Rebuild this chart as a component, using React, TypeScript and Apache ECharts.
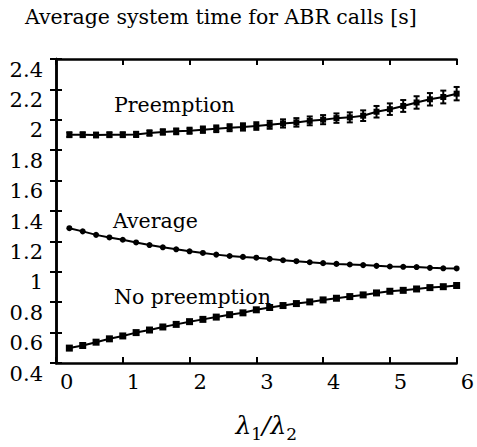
import React, { useEffect, useRef } from "react";
import * as echarts from "echarts";

// Arrival-rate ratio λ1/λ2 at which each point was simulated
const ratios = [
  0.2, 0.4, 0.6, 0.8, 1.0, 1.2, 1.4, 1.6, 1.8, 2.0,
  2.2, 2.4, 2.6, 2.8, 3.0, 3.2, 3.4, 3.6, 3.8, 4.0,
  4.2, 4.4, 4.6, 4.8, 5.0, 5.2, 5.4, 5.6, 5.8, 6.0,
];

// Average system time [s] for ABR calls
const preemption = [
  1.902, 1.902, 1.9, 1.902, 1.902, 1.904, 1.913, 1.92, 1.924, 1.928,
  1.935, 1.941, 1.948, 1.953, 1.959, 1.967, 1.976, 1.983, 1.993, 2.001,
  2.011, 2.016, 2.027, 2.053, 2.07, 2.091, 2.114, 2.135, 2.15, 2.172,
];
// Half-width of the confidence interval on the preemption curve
const preemptionErr = [
  0.016, 0.016, 0.016, 0.016, 0.016, 0.017, 0.018, 0.018, 0.019, 0.02,
  0.021, 0.022, 0.023, 0.024, 0.025, 0.026, 0.027, 0.028, 0.029, 0.03,
  0.031, 0.033, 0.035, 0.038, 0.038, 0.039, 0.041, 0.041, 0.042, 0.044,
];
const average = [
  1.287, 1.266, 1.243, 1.226, 1.211, 1.193, 1.176, 1.161, 1.148, 1.135,
  1.124, 1.113, 1.104, 1.098, 1.093, 1.085, 1.076, 1.07, 1.063, 1.057,
  1.052, 1.048, 1.044, 1.039, 1.035, 1.033, 1.031, 1.026, 1.023, 1.022,
];
const noPreemption = [
  0.498, 0.515, 0.537, 0.559, 0.578, 0.6, 0.617, 0.637, 0.654, 0.672,
  0.687, 0.702, 0.718, 0.73, 0.75, 0.765, 0.778, 0.791, 0.802, 0.815,
  0.826, 0.837, 0.848, 0.861, 0.872, 0.878, 0.887, 0.896, 0.902, 0.91,
];

const seriesNames = ["Preemption", "Average", "No preemption"];
const titleText = "Average system time for ABR calls [s]";

const SERIF = "DejaVu Serif";
const INK = "#000";
const FS = 21;

const pairs = (ys: number[]) => ratios.map((x, i) => [x, ys[i]]);

export default function App() {
  const ref = useRef<HTMLDivElement>(null);

  useEffect(() => {
    if (!ref.current) return;
    const chart = echarts.init(ref.current, undefined, { renderer: "svg" });

    const axisLine = { show: true, lineStyle: { color: INK, width: 2.5 } };
    const axisTick = {
      show: true,
      inside: true,
      length: 6,
      lineStyle: { color: INK, width: 2 },
    };

    const xBase = {
      type: "value" as const,
      min: 0,
      max: 6,
      interval: 1,
      axisLine,
      axisTick,
      splitLine: { show: false },
    };
    const yBase = {
      type: "value" as const,
      min: 0.4,
      max: 2.4,
      interval: 0.2,
      axisLine,
      axisTick,
      splitLine: { show: false },
    };

    const lineStyle = { color: INK, width: 2 };
    const note = (text: string, x: number, y: number, size: number) => ({
      type: "text",
      x,
      y,
      style: {
        text,
        fontFamily: SERIF,
        fontSize: size,
        fill: INK,
        verticalAlign: "middle",
      },
    });

    chart.setOption({
      animation: false,
      backgroundColor: "#fff",
      textStyle: { fontFamily: SERIF, color: INK },
      grid: { left: 56, right: 20, top: 59, bottom: 81 },
      xAxis: [
        {
          ...xBase,
          position: "bottom",
          axisLabel: {
            color: INK,
            fontFamily: SERIF,
            fontSize: FS,
            margin: 8,
            align: "left",
            padding: [0, 0, 0, 4],
            showMaxLabel: true,
          },
          name: "{l|λ}{s|1}{l|/λ}{s|2}",
          nameLocation: "middle",
          nameGap: 50,
          nameTextStyle: {
            fontFamily: SERIF,
            padding: [0, 0, 0, 20],
            rich: {
              l: {
                fontFamily: SERIF,
                fontStyle: "italic",
                fontSize: 25,
                color: INK,
                verticalAlign: "bottom",
                padding: [0, 0, 4, 0],
              },
              s: {
                fontFamily: SERIF,
                fontSize: 17,
                color: INK,
                verticalAlign: "bottom",
              },
            },
          },
        },
        { ...xBase, position: "top", axisLabel: { show: false } },
      ],
      yAxis: [
        {
          ...yBase,
          position: "left",
          axisLabel: {
            color: INK,
            fontFamily: SERIF,
            fontSize: FS,
            margin: 13,
            verticalAlign: "top",
            lineHeight: 21,
          },
        },
        { ...yBase, position: "right", axisLabel: { show: false } },
      ],
      graphic: [
        note(titleText, 25, 17, 20.5),
        note(seriesNames[0], 114, 105, 20.5),
        note(seriesNames[1], 113, 221, 20.5),
        note(seriesNames[2], 114, 297, 20.5),
      ],
      series: [
        {
          name: seriesNames[0],
          type: "line",
          data: pairs(preemption),
          symbol: "rect",
          symbolSize: 6,
          lineStyle,
          itemStyle: { color: INK },
          z: 3,
        },
        {
          name: seriesNames[0] + " interval",
          type: "custom",
          data: ratios.map((x, i) => [x, preemption[i], preemptionErr[i]]),
          clip: false,
          z: 4,
          renderItem: (params: any, api: any) => {
            const x = api.value(0);
            const y = api.value(1);
            const e = api.value(2);
            const lo = api.coord([x, y - e]);
            const hi = api.coord([x, y + e]);
            const cap = 3;
            const style = { stroke: INK, lineWidth: 2 };
            return {
              type: "group",
              children: [
                { type: "line", shape: { x1: lo[0], y1: lo[1], x2: hi[0], y2: hi[1] }, style },
                { type: "line", shape: { x1: hi[0] - cap, y1: hi[1], x2: hi[0] + cap, y2: hi[1] }, style },
                { type: "line", shape: { x1: lo[0] - cap, y1: lo[1], x2: lo[0] + cap, y2: lo[1] }, style },
              ],
            };
          },
        },
        {
          name: seriesNames[1],
          type: "line",
          data: pairs(average),
          symbol: "circle",
          symbolSize: 6,
          lineStyle,
          itemStyle: { color: INK },
          z: 3,
        },
        {
          name: seriesNames[2],
          type: "line",
          data: pairs(noPreemption),
          symbol: "rect",
          symbolSize: 7,
          lineStyle,
          itemStyle: { color: INK },
          z: 3,
        },
      ],
    });

    return () => chart.dispose();
  }, []);

  return (
    <div
      ref={ref}
      style={{ position: "absolute", left: 0, top: 0, width: 477, height: 447 }}
    />
  );
}
